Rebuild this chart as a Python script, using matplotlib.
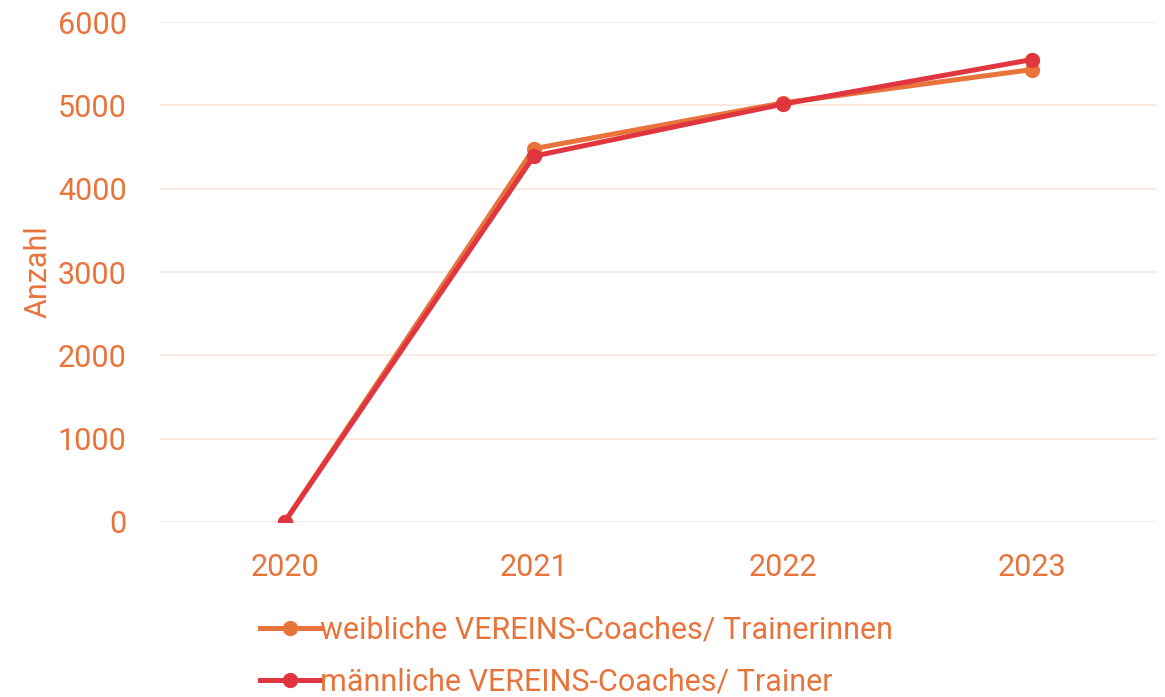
import matplotlib
matplotlib.use('Agg')
import matplotlib.pyplot as plt

years = ['2020', '2021', '2022', '2023']
weiblich = [0, 4480, 5030, 5430]
maennlich = [0, 4390, 5015, 5550]
yticks = [0, 1000, 2000, 3000, 4000, 5000, 6000]

orange = '#E8743B'
red = '#E0363F'
grid_col = '#FBEAE2'

plt.rcParams['font.family'] = ['Roboto', 'DejaVu Sans']

fig = plt.figure(figsize=(11.65, 6.97), dpi=100)
ax = fig.add_axes([0.1373, 0.2511, 0.8558, 0.7173])

x = range(len(years))
ax.plot(x, weiblich, color=orange, lw=3.6, marker='o', ms=10,
        label='weibliche VEREINS-Coaches/ Trainerinnen', zorder=3)
ax.plot(x, maennlich, color=red, lw=3.6, marker='o', ms=10,
        label='männliche VEREINS-Coaches/ Trainer', zorder=4)

ax.set_xlim(-0.5, len(years) - 0.5)
ax.set_ylim(0, 6000)
ax.set_yticks(yticks)
ax.set_yticklabels([str(v) for v in yticks])
ax.set_xticks(list(x))
ax.set_xticklabels(years)
ax.tick_params(length=0, labelsize=22, colors=orange)
ax.tick_params(axis='y', pad=24)
ax.tick_params(axis='x', pad=22)
for s in ax.spines.values():
    s.set_visible(False)
ax.grid(axis='y', color=grid_col, lw=1.5)
ax.set_axisbelow(True)
ax.set_ylabel('Anzahl', fontsize=22, color=orange)
ax.yaxis.set_label_coords(-0.108, 0.5)

leg = fig.legend(loc='upper left', bbox_to_anchor=(0.213, 0.134), frameon=False,
                 fontsize=22, handlelength=1.95, handletextpad=0.0,
                 labelspacing=0.74, borderaxespad=0)
for t in leg.get_texts():
    t.set_color(orange)

fig.savefig('out.png', dpi=100)
